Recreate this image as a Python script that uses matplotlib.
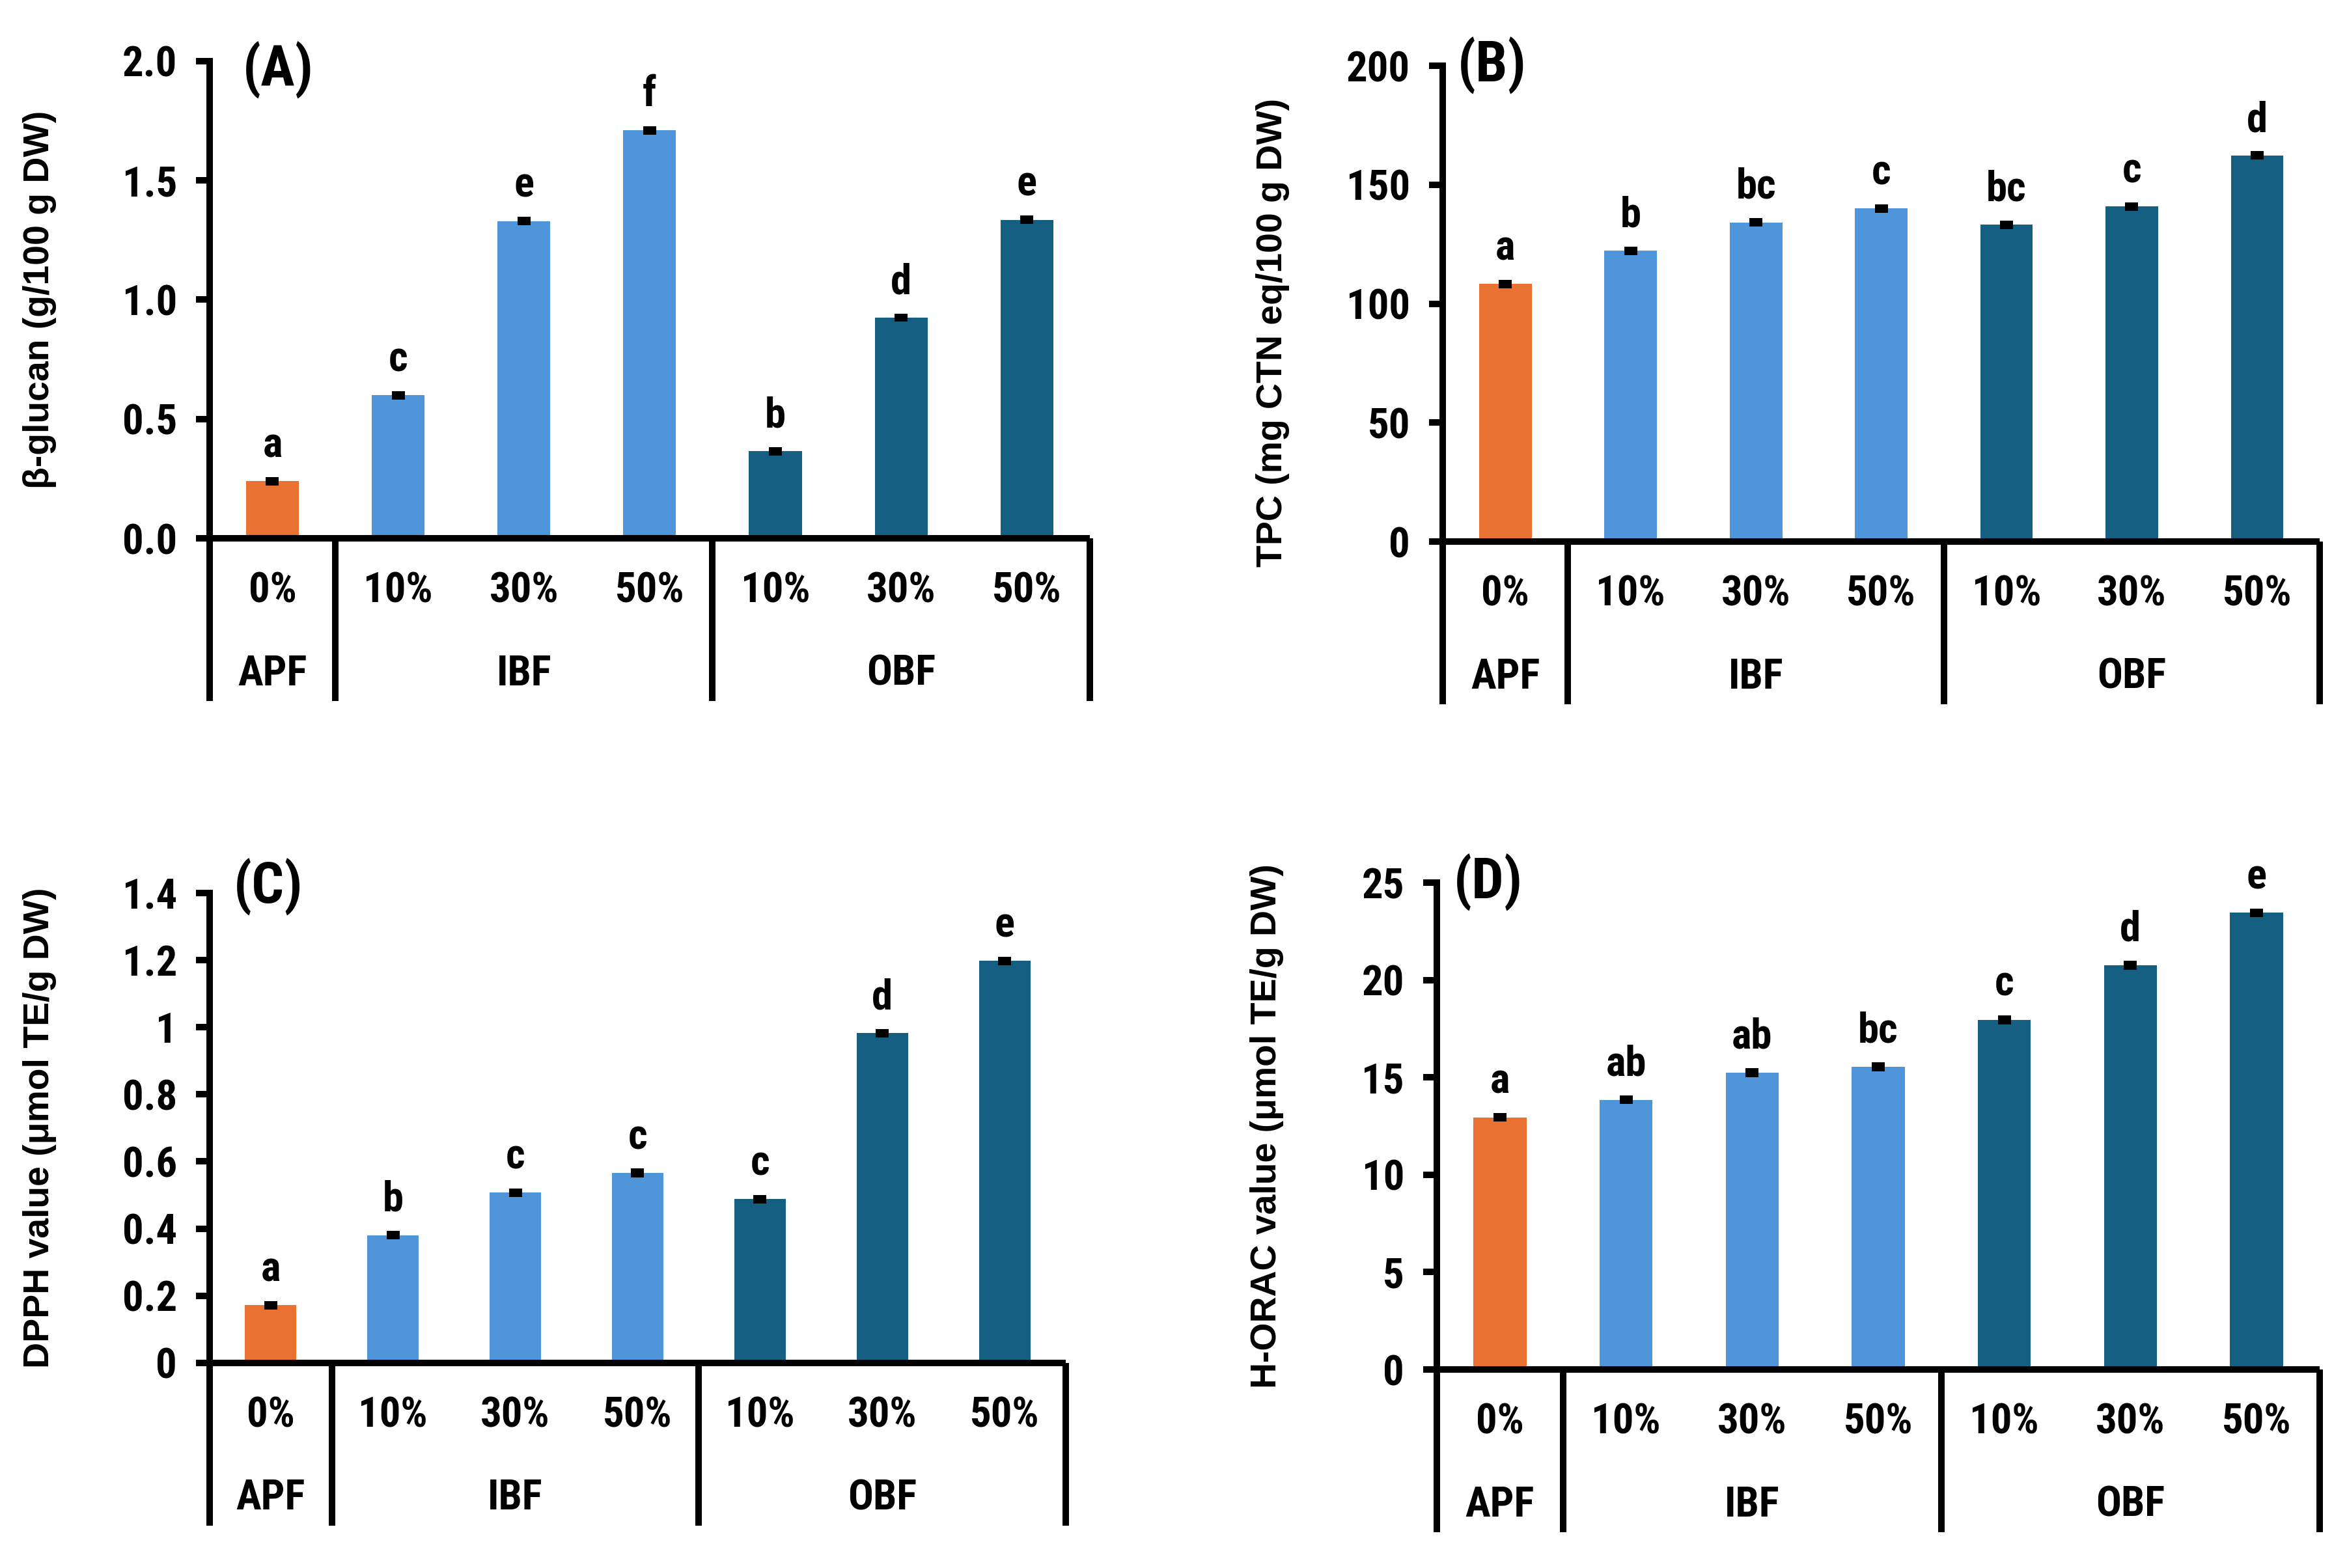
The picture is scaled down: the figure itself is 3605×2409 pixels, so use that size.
import matplotlib
matplotlib.use("Agg")
import matplotlib.pyplot as plt
import matplotlib.transforms as mtransforms

plt.rcParams['font.family'] = ['Roboto Condensed', 'Liberation Sans', 'DejaVu Sans']
plt.rcParams['font.weight'] = 'bold'

# categories
levels = ["0%", "10%", "30%", "50%", "10%", "30%", "50%"]
groups = ["APF", "IBF", "OBF"]
group_span = [(0, 0), (1, 3), (4, 6)]

# colours per bar
bar_colors = ["#E97132", "#4E95D9", "#4E95D9", "#4E95D9", "#156082", "#156082", "#156082"]

# (A) beta-glucan
glucan = [0.24, 0.60, 1.33, 1.71, 0.365, 0.925, 1.335]
glucan_se = [0.004, 0.004, 0.004, 0.004, 0.004, 0.004, 0.004]
glucan_letters = ["a", "c", "e", "f", "b", "d", "e"]

# (B) TPC
tpc = [108.3, 122.3, 134.2, 140.1, 133.2, 140.9, 162.3]
tpc_se = [0.4, 0.4, 0.4, 0.4, 0.4, 0.4, 0.4]
tpc_letters = ["a", "b", "bc", "c", "bc", "c", "d"]

# (C) DPPH
dpph = [0.172, 0.380, 0.507, 0.566, 0.488, 0.982, 1.198]
dpph_se = [0.003, 0.003, 0.003, 0.003, 0.003, 0.003, 0.003]
dpph_letters = ["a", "b", "c", "c", "c", "d", "e"]

# (D) H-ORAC
orac = [12.95, 13.85, 15.25, 15.55, 17.95, 20.75, 23.45]
orac_se = [0.06, 0.06, 0.06, 0.06, 0.06, 0.06, 0.06]
orac_letters = ["a", "ab", "ab", "bc", "c", "d", "e"]

W, H = 3605, 2409
fig = plt.figure(figsize=(W / 300, H / 300), dpi=300)

LW = 2.4
narrow = ['Roboto Condensed', 'Liberation Sans', 'DejaVu Sans']
arial = ['Liberation Sans', 'DejaVu Sans']
FS = 15.5


def panel(rect, vals, errs, letters, ylim, yticks, yticklabels, ylabel, tag, tag_pos, ylab_y=0.5):
    ax = fig.add_axes(rect)
    x = list(range(len(vals)))
    ax.bar(x, vals, width=0.42, color=bar_colors, zorder=2)
    ax.errorbar(x, vals, yerr=errs, fmt='none', ecolor='black', elinewidth=LW,
                capsize=2.3, capthick=LW, zorder=3)
    for xi, v, e, lab in zip(x, vals, errs, letters):
        ax.annotate(lab, (xi, v + e), xytext=(0, 8.5), textcoords='offset points',
                    ha='center', va='baseline', fontsize=FS, fontweight='bold', family=narrow)
    ax.set_xlim(-0.5, 6.5)
    ax.set_ylim(*ylim)
    ax.set_yticks(yticks)
    ax.set_yticklabels(yticklabels, fontsize=FS, fontweight='bold', family=narrow)
    ax.tick_params(axis='y', length=5, width=LW, pad=7)
    ax.set_xticks([])
    for s in ['top', 'right']:
        ax.spines[s].set_visible(False)
    for s in ['left', 'bottom']:
        ax.spines[s].set_linewidth(LW)
    ax.spines['bottom'].set_capstyle('butt')

    h_px = rect[3] * H
    w_px = rect[2] * W
    trans = mtransforms.blended_transform_factory(ax.transData, ax.transAxes)
    for xi, lab in zip(x, levels):
        ax.text(xi, -81 / h_px, lab, transform=trans, ha='center', va='center',
                fontsize=FS, fontweight='bold', family=narrow)
    for name, (a, b) in zip(groups, group_span):
        ax.text((a + b) / 2, -208 / h_px, name, transform=trans, ha='center', va='center',
                fontsize=FS, fontweight='bold', family=narrow)
    for sx in [-0.5, 0.5, 3.5, 6.5]:
        ax.plot([sx, sx], [0, -250 / h_px], transform=trans, color='black', lw=LW,
                clip_on=False, solid_capstyle='butt')

    ax.set_ylabel(ylabel, fontsize=13.3, fontweight='bold', family=arial)
    ax.yaxis.set_label_coords(-235 / w_px, ylab_y)
    ax.text(tag_pos[0], tag_pos[1], tag, transform=ax.transAxes, ha='left', va='center',
            fontsize=21, fontweight='bold', family=narrow)
    return ax


panel([0.0893, 0.6567, 0.3750, 0.3043], glucan, glucan_se, glucan_letters,
      (0, 2.0), [0, 0.5, 1.0, 1.5, 2.0], ["0.0", "0.5", "1.0", "1.5", "2.0"],
      "β-glucan (g/100 g DW)", "(A)", (0.038, 0.981))

panel([0.6147, 0.6546, 0.3737, 0.3034], tpc, tpc_se, tpc_letters,
      (0, 200), [0, 50, 100, 150, 200], ["0", "50", "100", "150", "200"],
      "TPC (mg CTN eq/100 g DW)", "(B)", (0.017, 1.0), ylab_y=0.44)

panel([0.0893, 0.1308, 0.3648, 0.2997], dpph, dpph_se, dpph_letters,
      (0, 1.4), [0, 0.2, 0.4, 0.6, 0.8, 1.0, 1.2, 1.4],
      ["0", "0.2", "0.4", "0.6", "0.8", "1", "1.2", "1.4"],
      "DPPH value (μmol TE/g DW)", "(C)", (0.028, 1.012))

panel([0.6122, 0.1266, 0.3761, 0.3105], orac, orac_se, orac_letters,
      (0, 25), [0, 5, 10, 15, 20, 25], ["0", "5", "10", "15", "20", "25"],
      "H-ORAC value (μmol TE/g DW)", "(D)", (0.019, 1.0))

fig.savefig("out.png", dpi=300, facecolor='white')
